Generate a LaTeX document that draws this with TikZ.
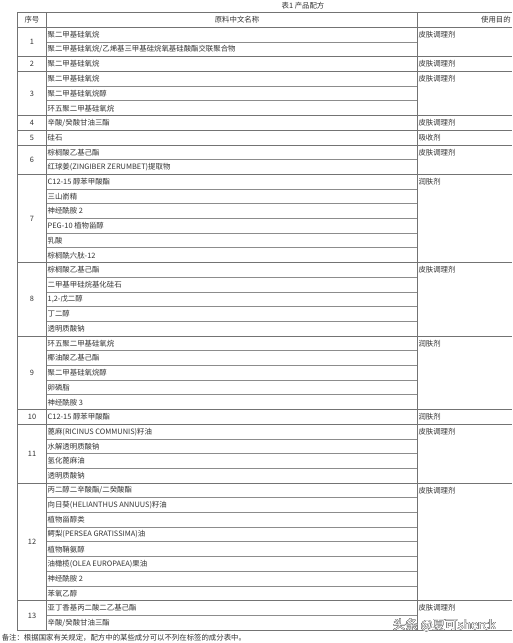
\documentclass[tikz,border=0pt]{standalone}
\usepackage{fontspec}
\setmainfont{Noto Sans CJK SC}
\usepackage[copies]{contour}
\usetikzlibrary{positioning}

\begin{document}
\begin{tikzpicture}[
			x=1pt, y=-1pt,
			grid/.style={draw=black!55, line width=0.7pt},
			subline/.style={draw=black!45, line width=0.9pt},
			cell/.style={
				anchor=west,
				inner sep=0.6pt,
				text=black!80
			},
			num/.style={cell, anchor=center},
			every node/.style={font=\fontsize{7.4}{8.5}\selectfont}
			]
			\clip (0,0) rectangle (512,643);
			\fill[white] (0,0) rectangle (512,643);
			
			% Title and header row (row 0 starts at y=12.7, every row is 14.7 high)
			\node[num] (title) at (303,6) {表1\ 产品配方};
			\node[num] (hnum) at (32,19.9) {序号};
			\node[num] (hname) at (237,19.9) {原料中文名称};
			\node[cell, anchor=east] (huse) at (511.5,19.9) {使用目的};
			
			% Ingredient names, one per row
			\foreach \txt [count=\i] in {
				聚二甲基硅氧烷, 聚二甲基硅氧烷/乙烯基三甲基硅烷氧基硅酸酯交联聚合物,
				聚二甲基硅氧烷,
				聚二甲基硅氧烷, 聚二甲基硅氧烷醇, 环五聚二甲基硅氧烷,
				辛酸/癸酸甘油三酯,
				硅石,
				棕榈酸乙基己酯, 红球姜(ZINGIBER ZERUMBET)提取物,
				C12-15 醇苯甲酸酯, 三山嵛精, 神经酰胺 2, PEG-10 植物甾醇, 乳酸, 棕榈酰六肽-12,
				棕榈酸乙基己酯, 二甲基甲硅烷基化硅石, {1,2-戊二醇}, 丁二醇, 透明质酸钠,
				环五聚二甲基硅氧烷, 椰油酸乙基己酯, 聚二甲基硅氧烷醇, 卵磷脂, 神经酰胺 3,
				C12-15 醇苯甲酸酯,
				蓖麻(RICINUS COMMUNIS)籽油, 水解透明质酸钠, 氢化蓖麻油, 透明质酸钠,
				丙二醇二辛酸酯/二癸酸酯, 向日葵(HELIANTHUS ANNUUS)籽油, 植物甾醇类,
				鳄梨(PERSEA GRATISSIMA)油, 植物鞘氨醇, 油橄榄(OLEA EUROPAEA)果油, 神经酰胺 2, 苯氧乙醇,
				亚丁香基丙二酸二乙基己酯, 辛酸/癸酸甘油三酯}
				\node[cell] (r\i) at (46.9,{12.7+14.7*(\i+0.5)}) {\txt};
			
			% Groups: number / first row / last row / use
			\foreach \n/\a/\b/\use in {1/1/2/皮肤调理剂, 2/3/3/皮肤调理剂, 3/4/6/皮肤调理剂,
				4/7/7/皮肤调理剂, 5/8/8/吸收剂, 6/9/10/皮肤调理剂, 7/11/16/润肤剂,
				8/17/21/皮肤调理剂, 9/22/26/润肤剂, 10/27/27/润肤剂, 11/28/31/皮肤调理剂,
				12/32/39/皮肤调理剂, 13/40/41/皮肤调理剂} {
				\node[num] (n\n) at (32,{12.7+14.7*(\a+\b+1)/2}) {\n};
				\node[cell] (u\n) at (417.7,{12.7+14.7*(\a+0.5)}) {\use};
			}
			
			% Rules
			\foreach \k in {1,...,41}
				\draw[subline] (46.7,{12.7+14.7*\k}) -- (417.7,{12.7+14.7*\k});
			\foreach \k in {0,1,3,4,7,8,9,11,17,22,27,28,32,40,42}
				\draw[grid] (17,{12.7+14.7*\k}) -- (512,{12.7+14.7*\k});
			\foreach \x in {17,46.7,417.7}
				\draw[grid] (\x,12.7) -- (\x,630.1);
			
			% Note and watermark
			\node[cell] (note) at (1,637.5) {备注：根据国家有关规定，配方中的某些成分可以不列在标签的成分表中。};
			\node[num, font=\fontsize{12.5}{14}\selectfont] (mark) at (444.5,625.5) {\contour{black!55}{\color{white}头条 @夏可sherck}};
		\end{tikzpicture}
\end{document}
